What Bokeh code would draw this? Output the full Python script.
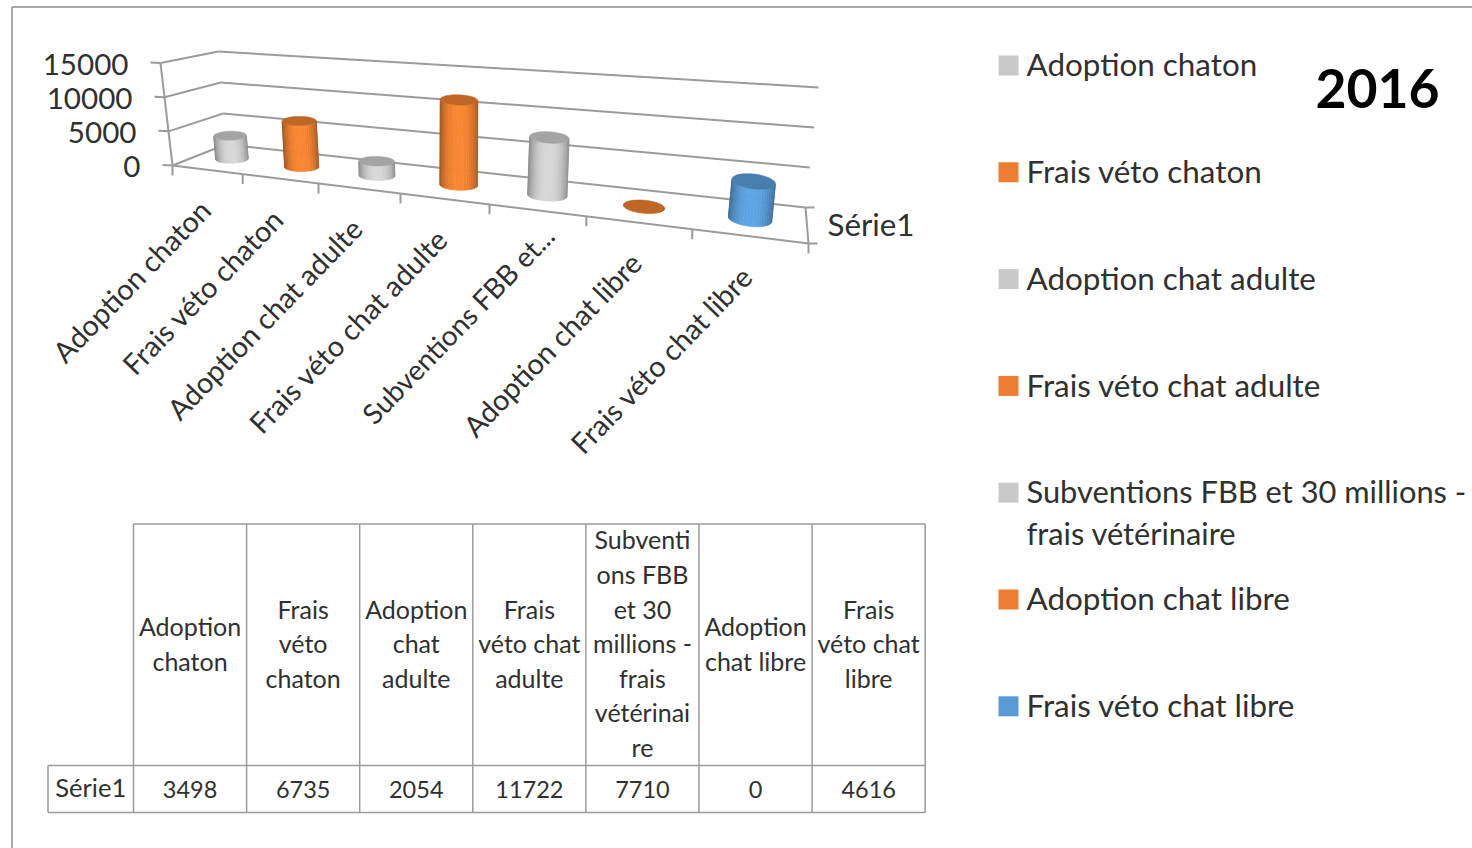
import math
from bokeh.plotting import figure
from bokeh.core.properties import value
from bokeh.embed import file_html
from bokeh.resources import INLINE

# ---------- data ----------
categories = ["Adoption chaton", "Frais véto chaton", "Adoption chat adulte", "Frais véto chat adulte",
              "Subventions FBB et 30 millions - frais vétérinaire", "Adoption chat libre", "Frais véto chat libre"]
axis_labels = ["Adoption chaton", "Frais véto chaton", "Adoption chat adulte", "Frais véto chat adulte",
               "Subventions FBB et...", "Adoption chat libre", "Frais véto chat libre"]
values = [3498, 6735, 2054, 11722, 7710, 0, 4616]
series_name = "Série1"
value_ticks = [0, 5000, 10000, 15000]
legend_colors = ["#c9c9c9", "#ed7d31", "#c9c9c9", "#ed7d31", "#c9c9c9", "#ed7d31", "#5b9bd5"]
body_colors = ["#d8d8d8", "#fb8732", "#d8d8d8", "#fb8732", "#d8d8d8", "#fb8732", "#5ea6e6"]
table_headers = [["Adoption", "chaton"], ["Frais", "véto", "chaton"], ["Adoption", "chat", "adulte"],
                 ["Frais", "véto chat", "adulte"],
                 ["Subventi", "ons FBB", "et 30", "millions -", "frais", "vétérinai", "re"],
                 ["Adoption", "chat libre"], ["Frais", "véto chat", "libre"]]
legend_wrapped = [["Adoption chaton"], ["Frais véto chaton"], ["Adoption chat adulte"], ["Frais véto chat adulte"],
                  ["Subventions FBB et 30 millions -", "frais vétérinaire"], ["Adoption chat libre"],
                  ["Frais véto chat libre"]]
title_text = "2016"

# ---------- pseudo-3D projection of the Excel plot box ----------
FONT = value("Lato")
TXT = "#303030"
GRID = "#9b9b9b"
VMAX = value_ticks[-1]
N = len(values)
FL, FR, BL, BR = (172, 165), (808, 243), (225, 144), (805, 207)
UFL, UFR, UBL, UBR = (-12, -102.4), (15, -128), (-7, -93), (13, -120)


def lerp(a, b, k):
    return (a[0] + (b[0] - a[0]) * k, a[1] + (b[1] - a[1]) * k)


def persp(t):
    u = t / N
    return u / (u + 1.342 * (1 - u))


def project(t, d, v=0):
    w = persp(t)
    base = lerp(lerp(FL, FR, w), lerp(BL, BR, w), d)
    up = lerp(lerp(UFL, UFR, w), lerp(UBL, UBR, w), d)
    return (base[0] + up[0] * v / VMAX, base[1] + up[1] * v / VMAX)


def mix(color, f):
    r, g, b = [int(color[i:i + 2], 16) for i in (1, 3, 5)]
    return "#%02x%02x%02x" % (int(r * f), int(g * f), int(b * f))


p = figure(width=1472, height=848, x_range=(0, 1472), y_range=(848, 0), output_backend="svg",
           toolbar_location=None, min_border=0, outline_line_color=None, background_fill_color="white")
p.xaxis.visible = False
p.yaxis.visible = False
p.grid.visible = False


def seg(a, b, width=2.0, color=GRID):
    p.line([a[0], b[0]], [a[1], b[1]], line_color=color, line_width=width)


def txt(x, y, s, size, align="left", angle=0.0, style="normal", color=TXT):
    p.text(x=[x], y=[y], text=[s], text_font=FONT, text_font_size=f"{size}px", text_align=align,
           text_baseline="middle", angle=[angle], text_color=color, text_font_style=style)


# frame of the screenshot
seg((11.5, 6.5), (1472, 6.5), 1.5, "#8c8c8c")
seg((11.5, 6.5), (11.5, 848), 1.5, "#8c8c8c")

# walls, gridlines, value ticks and labels
for v in value_ticks:
    a, b, c = project(0, 0, v), project(0, 1, v), project(N, 1, v)
    seg(a, b)
    seg(b, c)
    seg((a[0] - 10, a[1] - 0.5), a)
    txt(a[0] - 32, a[1] + 1, str(v), 29.6, "right")
seg(project(0, 0), project(0, 0, VMAX))
seg(project(0, 0), project(N, 0))
seg(project(N, 0), project(N, 1))
seg(project(N, 1), (project(N, 1)[0] + 9, project(N, 1)[1]))
seg(project(N, 0), (project(N, 0)[0] + 9, project(N, 0)[1]))
txt(827, 223, series_name, 31.3)

# category ticks and rotated labels
for i in range(N + 1):
    q = project(i, 0)
    seg(q, (q[0], q[1] + 10))
for i, lab in enumerate(axis_labels):
    q = project(i + 0.5, 0)
    dx, dy = (12, 20) if i == 4 else (-2, 35)
    size = 28 if i == 4 else 28.8
    txt(q[0] + dx, q[1] + dy, lab, size, "right", math.radians(46))

# cylinders
xs, ys, fills = [], [], []
disc_x, disc_y, disc_c = [], [], []
for i, v in enumerate(values):
    t = i + 0.5
    w = persp(t)
    B = project(t, 0.5)
    T = project(t, 0.5, v)
    rx = 16 + 6.5 * w
    ry = 4.5 + 3.6 * w ** 2
    tilt = math.radians(-2 + 10 * w)

    def pt(c, a):
        ex, ey = rx * math.cos(a), ry * math.sin(a)
        return (c[0] + ex * math.cos(tilt) - ey * math.sin(tilt), c[1] + ex * math.sin(tilt) + ey * math.cos(tilt))

    n = 22
    for k in range(n):
        a0, a1 = math.pi * k / n, math.pi * (k + 1) / n
        c = abs(math.cos((a0 + a1) / 2))
        shade = 1 - 0.34 * c ** 2.5
        pts = [pt(B, a0), pt(B, a1), pt(T, a1), pt(T, a0)]
        xs.append([q[0] for q in pts])
        ys.append([q[1] for q in pts])
        fills.append(mix(body_colors[i], shade))
    ring = [pt(T, 2 * math.pi * k / 48) for k in range(48)]
    disc_x.append([q[0] for q in ring])
    disc_y.append([q[1] for q in ring])
    disc_c.append(mix(body_colors[i], 0.76))

p.patches(xs, ys, fill_color=fills, line_color=fills, line_width=0.6)
p.patches(disc_x, disc_y, fill_color=disc_c, line_color=disc_c, line_width=0.5)

# legend
LEG_Y0, LEG_DY = 65, 106.8
for i, lines in enumerate(legend_wrapped):
    y = LEG_Y0 + LEG_DY * i
    p.rect(x=[1008], y=[y], width=20, height=20, fill_color=legend_colors[i], line_color=None)
    for j, s in enumerate(lines):
        txt(1026, y - 1.2 + 42 * j, s, 30.8 if len(lines) > 1 else 31.4)

txt(1315, 87.5, title_text, 53.5, style="bold", color="#000000")

# data table
col_x = [133 + 113.1 * i for i in range(N + 1)]
TOP, MID, BOT = 523.5, 765, 812
LEFT = 47.5
for x in col_x:
    seg((x, TOP), (x, BOT), 1.5)
seg((col_x[0], TOP), (col_x[-1], TOP), 1.5)
seg((LEFT, MID), (col_x[-1], MID), 1.5)
seg((LEFT, BOT), (col_x[-1], BOT), 1.5)
seg((LEFT, MID), (LEFT, BOT), 1.5)
txt((LEFT + col_x[0]) / 2, 786, series_name, 25.6, "center")
for i, v in enumerate(values):
    cx = (col_x[i] + col_x[i + 1]) / 2
    txt(cx, 789, str(v), 23.5, "center")
    lines = table_headers[i]
    y0 = (TOP + MID) / 2 - 1.5 - 34.6 * (len(lines) - 1) / 2
    for j, s in enumerate(lines):
        txt(cx, y0 + 34.6 * j, s, 25, "center")

open("out.html", "w").write(file_html(p, INLINE))
